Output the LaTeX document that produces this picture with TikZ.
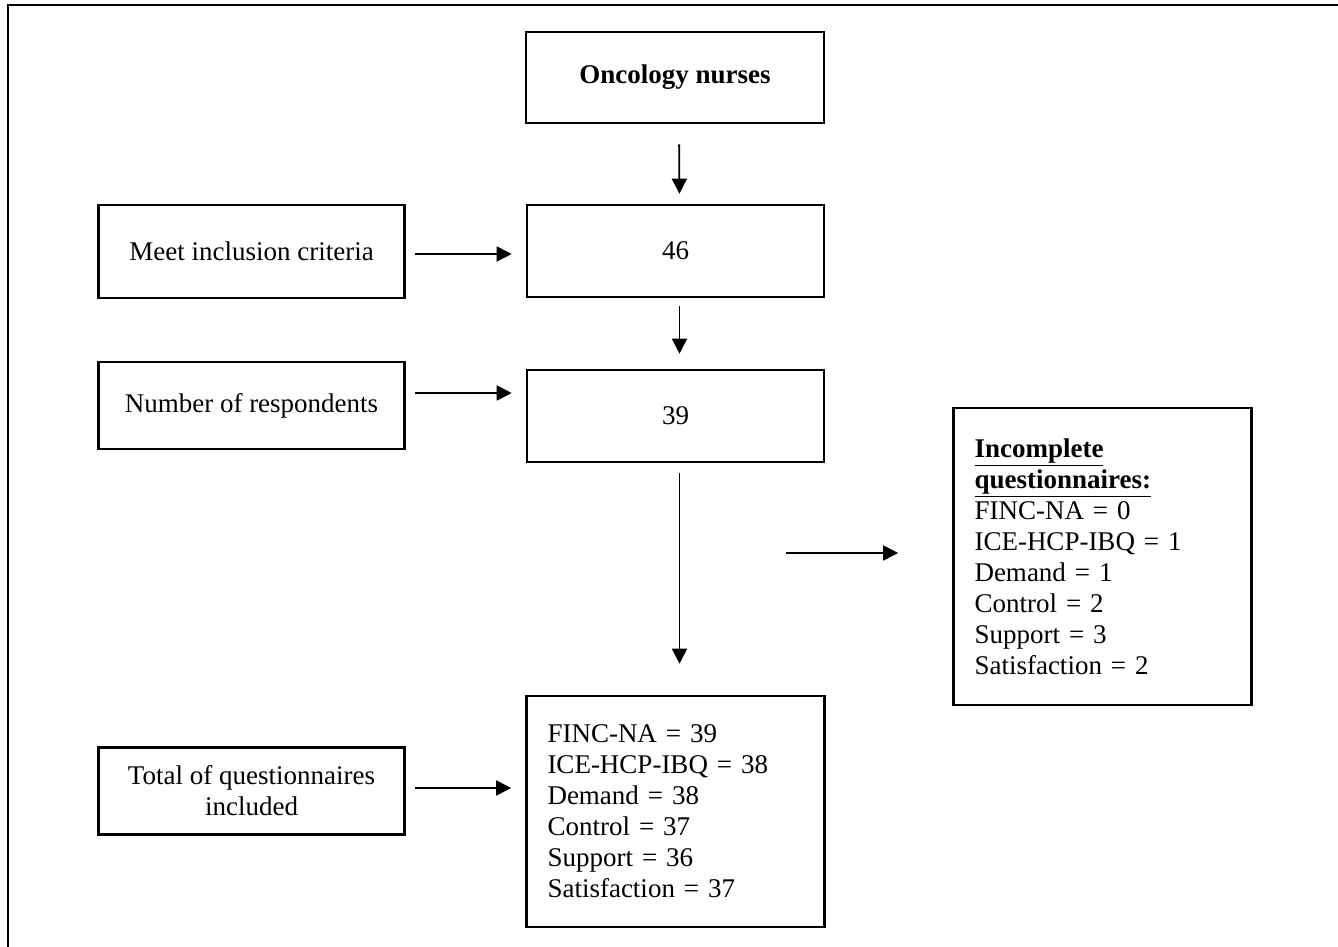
\documentclass[tikz,border=0pt]{standalone}
\usepackage{fontspec}
\setmainfont{Liberation Serif}
\usetikzlibrary{arrows.meta}
\begin{document}
\begin{tikzpicture}[x=0.5pt,y=-0.5pt,
  box/.style={draw, line width=1.3pt, inner sep=0pt, align=center,
    font=\fontsize{13.5}{15.5}\selectfont},
  listbox/.style={box, align=left, inner xsep=10.5pt, text width=128pt},
  arr/.style={line width=0.9pt, -{Triangle[length=7.5pt,width=7.5pt]}}]
\useasboundingbox (0,0) rectangle (1338,947);
\draw[line width=1pt] (1338,5.5) -- (7.5,5.5) -- (7.5,947);

\node[box, minimum width=149pt, minimum height=45.5pt] (on) at (675,77.5) {\textbf{Oncology nurses}};
\node[box, minimum width=148.5pt, minimum height=46pt] (n46) at (675.5,251) {46};
\node[box, minimum width=148.5pt, minimum height=46pt] (n39) at (675.5,416) {39};
\node[listbox, minimum width=148.5pt, minimum height=115.5pt] (tot) at (675.5,811.5)
  {FINC-NA = 39\\ICE-HCP-IBQ = 38\\Demand = 38\\Control = 37\\Support = 36\\Satisfaction = 37};
\node[box, minimum width=153pt, minimum height=46.5pt] (meet) at (251.5,251.5) {Meet inclusion criteria};
\node[box, minimum width=153pt, minimum height=43.5pt] (resp) at (251.5,405.5) {Number of respondents};
\node[box, minimum width=153pt, minimum height=43.5pt] (totq) at (251.5,791) {Total of questionnaires\\included};
\node[listbox, minimum width=149pt, minimum height=148.5pt] (inc) at (1102.5,556.5)
  {\underline{\textbf{Incomplete}}\\\underline{\textbf{questionnaires:}}\\FINC-NA = 0\\ICE-HCP-IBQ = 1\\Demand = 1\\Control = 2\\Support = 3\\Satisfaction = 2};

\draw[arr, shorten <=10pt, shorten >=5pt] ([xshift=2pt]on.south) -- ([xshift=2pt]n46.north);
\draw[arr, shorten <=4pt, shorten >=7.5pt] ([xshift=2pt]n46.south) -- ([xshift=2pt]n39.north);
\draw[arr, shorten <=5pt, shorten >=15.5pt] ([xshift=2pt]n39.south) -- ([xshift=2pt]tot.north);

\draw[arr, shorten <=4.75pt, shorten >=7pt] ([yshift=-1.25pt]meet.east) -- ([yshift=-1.25pt]meet.east -| n46.west);
\draw[arr, shorten <=4.75pt, shorten >=7pt] ([yshift=6.25pt]resp.east) -- ([yshift=6.25pt]resp.east -| n39.west);
\draw[arr, shorten <=4.75pt, shorten >=7pt] ([yshift=1.5pt]totq.east) -- ([yshift=1.5pt]totq.east -| tot.west);

\coordinate (split) at (786,553);
\draw[arr, shorten >=27pt] (split) -- (split -| inc.west);
\end{tikzpicture}
\end{document}
